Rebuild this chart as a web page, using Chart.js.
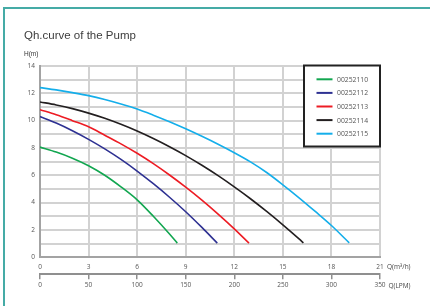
<!DOCTYPE html>
<html>
<head>
<meta charset="utf-8">
<title>Qh.curve of the Pump</title>
<script src="https://cdn.jsdelivr.net/npm/chart.js@4"></script>
<style>
  html, body { margin: 0; padding: 0; background: #fff; }
  .frame {
    position: absolute;
    left: 3px;
    top: 7px;
    width: 440px;
    height: 310px;
    border-left: 2px solid #45aba6;
    border-top: 2px solid #45aba6;
  }
  #chart { position: absolute; left: 0; top: 0; }
</style>
</head>
<body>
<div class="frame"></div>
<canvas id="chart" width="430" height="306"></canvas>
<script>
// Q in m3/h, H in m
const labels = ['00252110', '00252112', '00252113', '00252114', '00252115'];
const colors = ['#12a650', '#2e3192', '#ed1c24', '#231f20', '#14aeea'];

const qGreen = [0, 1, 2, 3, 4, 5, 6, 7, 8, 8.48];
const hGreen = [8.06, 7.7, 7.25, 6.7, 6.0, 5.15, 4.2, 3.0, 1.7, 1.03];

const qNavy = [0, 1, 2, 3, 4, 5, 6, 7, 8, 9, 10, 10.95];
const hNavy = [10.3, 9.82, 9.26, 8.63, 7.93, 7.16, 6.31, 5.38, 4.39, 3.33, 2.18, 1.03];

const qRed = [0, 1, 2, 3, 4, 5, 6, 7, 8, 9, 10, 11, 12, 12.91];
const hRed = [10.8, 10.43, 10.0, 9.55, 8.93, 8.3, 7.61, 6.85, 6.02, 5.13, 4.18, 3.16, 2.08, 1.03];

const qBlack = [0, 1, 2, 3, 4, 5, 6, 7, 8, 9, 10, 11, 12, 13, 14, 15, 16, 16.27];
const hBlack = [11.37, 11.15, 10.88, 10.55, 10.17, 9.73, 9.24, 8.69, 8.09, 7.44, 6.73, 5.97, 5.15, 4.28, 3.35, 2.37, 1.34, 1.05];

const qCyan = [0, 1, 2, 3, 4, 5, 6, 7, 8, 9, 10, 11, 12, 13, 14, 15, 16, 17, 18, 19.1];
const hCyan = [12.42, 12.25, 12.05, 11.83, 11.55, 11.22, 10.85, 10.4, 9.92, 9.4, 8.85, 8.27, 7.65, 6.98, 6.2, 5.3, 4.35, 3.35, 2.32, 1.05];

const qSeries = [qGreen, qNavy, qRed, qBlack, qCyan];
const hSeries = [hGreen, hNavy, hRed, hBlack, hCyan];

const xTicksM3 = [0, 3, 6, 9, 12, 15, 18, 21];
const xTicksLpm = [0, 50, 100, 150, 200, 250, 300, 350];

const tickFont = { family: 'Open Sans', size: 6.5 };
const tickColor = '#555';

const datasets = labels.map((name, i) => ({
  label: name,
  data: qSeries[i].map((q, j) => ({ x: q, y: hSeries[i][j] })),
  borderColor: colors[i],
  borderWidth: 1.6,
  pointRadius: 0,
  fill: false,
  cubicInterpolationMode: 'monotone'
}));

// Title, unit labels and boxed legend
const extrasPlugin = {
  id: 'extras',
  afterDraw(chart) {
    const ctx = chart.ctx;
    const area = chart.chartArea;
    ctx.save();

    ctx.fillStyle = '#3d3d3d';
    ctx.font = '11.5px "Liberation Sans", Arial, sans-serif';
    ctx.textAlign = 'left';
    ctx.textBaseline = 'alphabetic';
    ctx.fillText('Qh.curve of the Pump', 24, 39);

    ctx.fillStyle = '#333';
    ctx.font = '6.5px "Liberation Sans", Arial, sans-serif';
    ctx.fillText('H(m)', 24, 56);

    ctx.textBaseline = 'middle';
    ctx.fillStyle = '#444';
    ctx.font = '6.5px "Open Sans", sans-serif';
    ctx.fillText('Q(m³/h)', area.right + 7, area.bottom + 10);
    ctx.fillText('Q(LPM)', area.right + 8.5, area.bottom + 28.5);

    // legend box
    const w = 76, h = 81;
    const left = area.right - w;
    const top = area.top - 0.5;
    ctx.fillStyle = '#fff';
    ctx.fillRect(left, top, w, h);
    ctx.strokeStyle = '#222';
    ctx.lineWidth = 2;
    ctx.strokeRect(left, top, w, h);

    ctx.font = '6.8px "Open Sans", sans-serif';
    labels.forEach((name, i) => {
      const y = top + 13.8 + i * 13.6;
      ctx.strokeStyle = colors[i];
      ctx.lineWidth = 2;
      ctx.beginPath();
      ctx.moveTo(left + 12.5, y);
      ctx.lineTo(left + 28.5, y);
      ctx.stroke();
      ctx.fillStyle = '#555';
      ctx.fillText(name, left + 33, y + 0.5);
    });

    ctx.restore();
  }
};

new Chart(document.getElementById('chart'), {
  type: 'line',
  data: { datasets: datasets },
  options: {
    responsive: false,
    animation: false,
    layout: { padding: { left: 18, right: 50, top: 66, bottom: 15 } },
    plugins: {
      legend: { display: false },
      tooltip: { enabled: false }
    },
    scales: {
      x: {
        type: 'linear',
        position: 'bottom',
        weight: 0,
        min: xTicksM3[0],
        max: xTicksM3[xTicksM3.length - 1],
        afterBuildTicks: (scale) => { scale.ticks = xTicksM3.map(v => ({ value: v })); },
        afterFit: (scale) => { scale.height = 17; },
        grid: { color: '#d2d2d2', lineWidth: 2, drawTicks: false },
        border: { color: '#a3a3a3', width: 2 },
        ticks: { font: tickFont, color: tickColor, padding: 6, autoSkip: false, maxRotation: 0 }
      },
      x2: {
        type: 'linear',
        position: 'bottom',
        weight: 1,
        min: xTicksLpm[0],
        max: xTicksLpm[xTicksLpm.length - 1],
        afterBuildTicks: (scale) => { scale.ticks = xTicksLpm.map(v => ({ value: v })); },
        grid: { drawOnChartArea: false, drawTicks: true, tickLength: 5, color: '#8f8f8f', lineWidth: 1.5 },
        border: { color: '#8f8f8f', width: 2 },
        ticks: { font: tickFont, color: tickColor, padding: 2, autoSkip: false, maxRotation: 0 }
      },
      y: {
        min: 0,
        max: 14,
        afterFit: (scale) => { scale.width = 22; },
        grid: { color: '#d2d2d2', lineWidth: 2, drawTicks: false },
        border: { color: '#a3a3a3', width: 2 },
        ticks: {
          stepSize: 1,
          autoSkip: false,
          font: tickFont,
          color: tickColor,
          padding: 5,
          callback: (v) => (v % 2 === 0 ? v : '')
        }
      }
    }
  },
  plugins: [extrasPlugin]
});
</script>
</body>
</html>
